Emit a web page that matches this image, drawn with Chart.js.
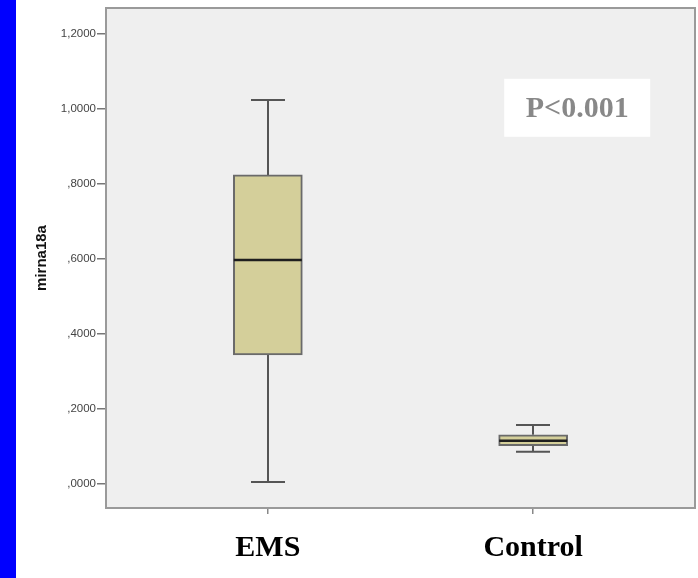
<!DOCTYPE html>
<html>
<head>
<meta charset="utf-8">
<script src="https://cdn.jsdelivr.net/npm/chart.js@4/dist/chart.umd.min.js"></script>
<style>
  html, body { margin: 0; padding: 0; }
  body { background: linear-gradient(to right, #0000ff 16px, #ffffff 16px); width: 698px; height: 578px; }
  #wrap { width: 698px; height: 578px; }
</style>
</head>
<body>
<div id="wrap"><canvas id="boxChart" width="698" height="578"></canvas></div>
<script>
// Data
const groups = ['EMS', 'Control'];
const positions = [1, 2];
const whiskerLow = [0.005, 0.086];
const quartile1 = [0.344, 0.102];
const medians = [0.597, 0.115];
const quartile3 = [0.824, 0.131];
const whiskerHigh = [1.024, 0.157];

const yTickValues = [0, 0.2, 0.4, 0.6, 0.8, 1.0, 1.2];
const yTickLabels = [',0000', ',2000', ',4000', ',6000', ',8000', '1,0000', '1,2000'];

const pValueText = 'P<0.001';
const pValueAt = { x: 2.166, y: 1.003 };

const boxFill = '#d4cf9a';
const boxLine = '#6a6a6a';

// draws the plot background, frame, whiskers, medians and p-value label
const boxPlotExtras = {
    id: 'boxPlotExtras',
    beforeDatasetsDraw(chart) {
        const ctx = chart.ctx;
        const a = chart.chartArea;
        const xs = chart.scales.x;
        const ys = chart.scales.y;
        ctx.save();
        ctx.fillStyle = '#efefef';
        ctx.fillRect(a.left, a.top, a.right - a.left, a.bottom - a.top);
        ctx.strokeStyle = '#9a9a9a';
        ctx.lineWidth = 2;
        ctx.strokeRect(a.left, a.top, a.right - a.left, a.bottom - a.top);

        // whiskers
        ctx.strokeStyle = '#555555';
        ctx.lineWidth = 2;
        for (let i = 0; i < groups.length; i++) {
            const x = Math.round(xs.getPixelForValue(positions[i]));
            const yLo = ys.getPixelForValue(whiskerLow[i]);
            const yQ1 = ys.getPixelForValue(quartile1[i]);
            const yQ3 = ys.getPixelForValue(quartile3[i]);
            const yHi = ys.getPixelForValue(whiskerHigh[i]);
            ctx.beginPath();
            ctx.moveTo(x, yLo); ctx.lineTo(x, yQ1);
            ctx.moveTo(x, yQ3); ctx.lineTo(x, yHi);
            ctx.moveTo(x - 17, yLo); ctx.lineTo(x + 17, yLo);
            ctx.moveTo(x - 17, yHi); ctx.lineTo(x + 17, yHi);
            ctx.stroke();
        }
        ctx.restore();
    },
    afterDatasetsDraw(chart) {
        const ctx = chart.ctx;
        const xs = chart.scales.x;
        const ys = chart.scales.y;
        ctx.save();
        ctx.strokeStyle = '#1e1e1e';
        ctx.lineWidth = 2.5;
        for (let i = 0; i < groups.length; i++) {
            const x = xs.getPixelForValue(positions[i]);
            const y = ys.getPixelForValue(medians[i]);
            ctx.beginPath();
            ctx.moveTo(x - 34, y);
            ctx.lineTo(x + 34, y);
            ctx.stroke();
        }

        // p-value label
        const px = xs.getPixelForValue(pValueAt.x);
        const py = ys.getPixelForValue(pValueAt.y);
        ctx.fillStyle = '#ffffff';
        ctx.fillRect(px - 73, py - 29, 146, 58);
        ctx.fillStyle = '#888888';
        ctx.font = 'bold 30px "Liberation Serif", "DejaVu Serif", serif';
        ctx.textAlign = 'center';
        ctx.textBaseline = 'middle';
        ctx.fillText(pValueText, px, py + 1);
        ctx.restore();
    }
};

const ctx = document.getElementById('boxChart').getContext('2d');
const boxChart = new Chart(ctx, {
    type: 'bar',
    data: {
        datasets: [{
            label: 'mirna18a',
            data: positions.map((p, i) => ({ x: p, y: [quartile1[i], quartile3[i]] })),
            backgroundColor: boxFill,
            borderColor: boxLine,
            borderWidth: 2,
            borderSkipped: false,
            barThickness: 69
        }]
    },
    options: {
        responsive: false,
        animation: false,
        layout: { padding: { top: 8, right: 3, left: 0, bottom: 0 } },
        plugins: {
            legend: { display: false },
            tooltip: { enabled: false }
        },
        scales: {
            x: {
                type: 'linear',
                offset: false,
                min: 0.39,
                max: 2.61,
                afterBuildTicks: (scale) => { scale.ticks = positions.map(v => ({ value: v })); },
                afterFit: (scale) => { scale.height = 70; },
                border: { display: false },
                grid: { offset: false, drawOnChartArea: false, drawTicks: true, tickLength: 6, color: '#888888', lineWidth: 1.5 },
                ticks: {
                    padding: 16,
                    color: '#000000',
                    font: { family: '"Liberation Serif", "DejaVu Serif", serif', size: 30, weight: 'bold' },
                    callback: (v) => groups[positions.indexOf(v)]
                }
            },
            y: {
                type: 'linear',
                min: -0.064,
                max: 1.269,
                afterBuildTicks: (scale) => { scale.ticks = yTickValues.map(v => ({ value: v })); },
                afterFit: (scale) => { scale.width = 106; },
                border: { display: false },
                grid: { drawOnChartArea: false, drawTicks: true, tickLength: 9, color: '#777777', lineWidth: 1.5 },
                ticks: {
                    padding: 1,
                    color: '#444444',
                    font: { family: '"Liberation Sans", Arial, sans-serif', size: 11.5 },
                    callback: (v) => yTickLabels[yTickValues.indexOf(v)]
                },
                title: {
                    display: true,
                    text: 'mirna18a',
                    color: '#111111',
                    padding: { top: 33, bottom: 0 },
                    font: { family: '"Liberation Sans", Arial, sans-serif', size: 15, weight: 'bold' }
                }
            }
        }
    },
    plugins: [boxPlotExtras]
});
</script>
</body>
</html>
